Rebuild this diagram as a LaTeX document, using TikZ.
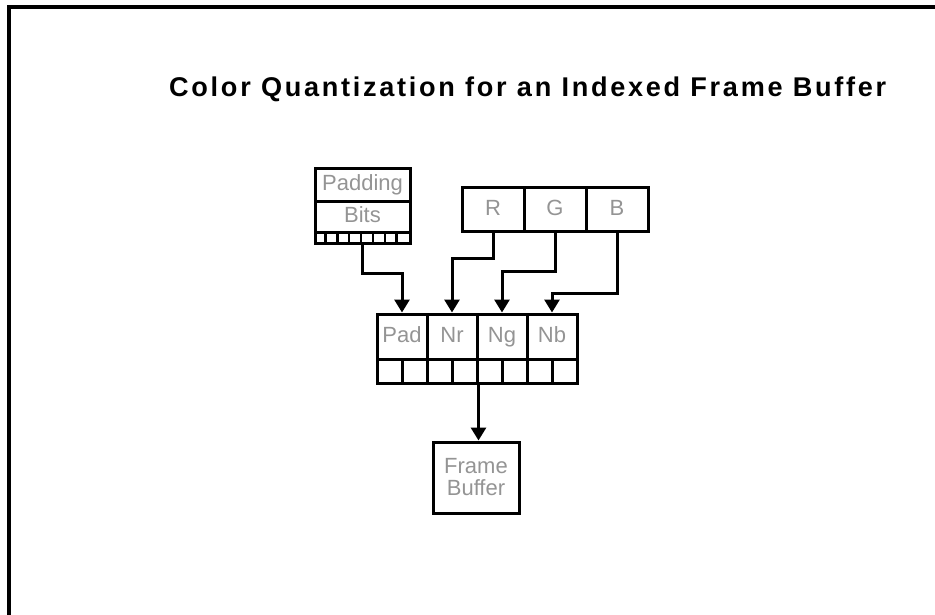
\documentclass[tikz,border=0pt]{standalone}
\usepackage{fontspec}
\setmainfont{Liberation Sans}
\newfontfamily\titlefont[LetterSpace=10]{Liberation Sans}
\usetikzlibrary{arrows.meta}

\begin{document}
\begin{tikzpicture}[x=1pt,y=-1pt,
  box/.style={draw, line width=3pt, inner sep=0pt, text=black!42,
    text height=15pt, text depth=4pt, font=\fontsize{22}{23}\selectfont},
  cell/.style={draw, line width=3pt, inner sep=0pt, text height=0pt, text depth=0pt},
  wire/.style={line width=3pt, -{Triangle[width=15pt,length=13pt]}}]
\useasboundingbox (0,0) rectangle (935,615);
\draw[line width=3.5pt] (9,625) -- (9,7) -- (945,7);

% title
\node[anchor=base west, inner sep=0pt, font=\titlefont\bfseries\fontsize{27.1}{30}\selectfont] (title) at (169,97) {Color Quantization for an Indexed Frame Buffer};

% padding bits
\node[box, minimum width=95pt, minimum height=33pt] (padding) at (362.5,185.5) {Padding};
\node[box, minimum width=95pt, minimum height=30pt] (bits) at (362.5,217) {Bits};
\node[cell, minimum width=95pt, minimum height=11pt] (bitcells) at (362.5,237.5) {};
\foreach \i in {1,...,7}
  \draw[line width=2.5pt] ([xshift=\i*95pt/8]bitcells.south west) -- ([xshift=\i*95pt/8]bitcells.north west);

% color in
\node[box, minimum width=62pt, minimum height=43pt] (r) at (493,209.5) {R};
\node[box, minimum width=62pt, minimum height=43pt] (g) at (555,209.5) {G};
\node[box, minimum width=62pt, minimum height=43pt] (b) at (617,209.5) {B};

% index
\node[box, minimum width=50pt, minimum height=45pt] (pad) at (402,336.5) {Pad};
\node[box, minimum width=50pt, minimum height=45pt] (nr) at (452,336.5) {Nr};
\node[box, minimum width=50pt, minimum height=45pt] (ng) at (502,336.5) {Ng};
\node[box, minimum width=50pt, minimum height=45pt] (nb) at (552,336.5) {Nb};
\foreach \i in {1,...,8}
  \node[cell, minimum width=25pt, minimum height=24pt] (c\i) at (364.5+\i*25,371) {};

\node[box, minimum width=86pt, minimum height=71pt, align=center, text height=, text depth=] (fb) at (476,477.5) {Frame\\[-1pt]Buffer};

% wires
\draw[wire] (bitcells.south) -- ++(0,29) -| (pad.north);
\draw[wire] (r.south) -- ++(0,26) -| (nr.north);
\draw[wire] (g.south) -- ++(0,39) -| (ng.north);
\draw[wire] (b.south) -- ++(0,61) -| (nb.north);
\draw[wire] (c4.south east) -- (c4.south east |- fb.north);
\end{tikzpicture}
\end{document}
